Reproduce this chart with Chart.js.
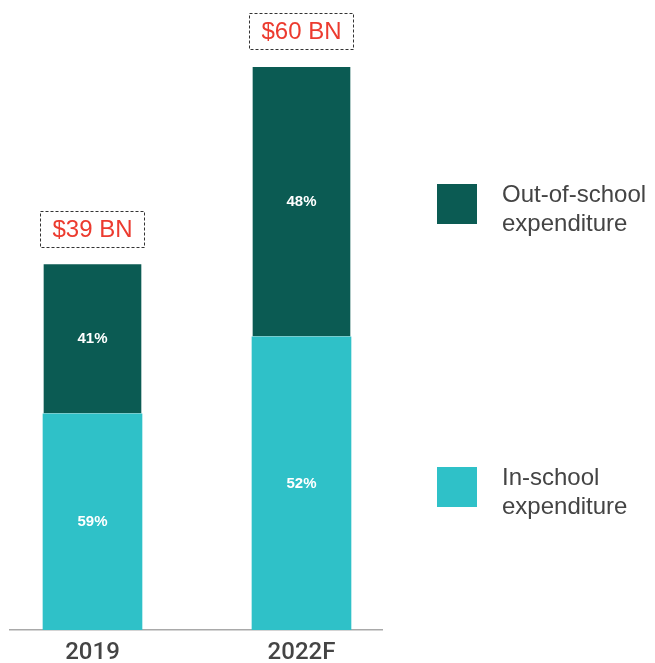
<!DOCTYPE html>
<html><head><meta charset="utf-8">
<script src="https://cdn.jsdelivr.net/npm/chart.js@4.4.1/dist/chart.umd.min.js"></script>
<style>
html,body{margin:0;padding:0;background:#fff;}
#wrap{position:relative;width:655px;height:663px;overflow:hidden;}
canvas{display:block;}
.sw{position:absolute;left:437px;width:40px;height:40px;}
.lt{position:absolute;left:502px;font:24px "Liberation Sans",Arial,sans-serif;color:#444;line-height:29px;white-space:nowrap;}
</style></head><body>
<div id="wrap"><canvas id="c" width="655" height="663"></canvas><div id="legend"></div></div>
<script>
// ---- data ----
const categories = ['2019', '2022F'];
const totalsBn = [39, 60];
const inSchoolPct = [59, 52];
const outSchoolPct = [41, 48];
const seriesNames = ['In-school expenditure', 'Out-of-school expenditure'];
const seriesLegendLines = [['In-school', 'expenditure'], ['Out-of-school', 'expenditure']];

const colors = { inSchool: '#2fc1c8', outSchool: '#0b5b53', red: '#ec3b2f', text: '#444444' };

const inVals = totalsBn.map((t, i) => t * inSchoolPct[i] / 100);
const outVals = totalsBn.map((t, i) => t * outSchoolPct[i] / 100);

const labelsPlugin = {
  id: 'labels',
  afterDatasetsDraw(chart) {
    const ctx = chart.ctx;
    ctx.save();
    // percentage labels
    chart.data.datasets.forEach((ds, di) => {
      const meta = chart.getDatasetMeta(di);
      meta.data.forEach((el, i) => {
        const p = el.getProps(['x', 'y', 'base'], true);
        ctx.fillStyle = '#ffffff';
        ctx.font = 'bold 15px "Liberation Sans", Arial, sans-serif';
        ctx.textAlign = 'center';
        ctx.textBaseline = 'middle';
        ctx.fillText(ds.pct[i] + '%', p.x, (p.y + p.base) / 2);
      });
    });
    // total boxes
    const topMeta = chart.getDatasetMeta(chart.data.datasets.length - 1);
    topMeta.data.forEach((el, i) => {
      const p = el.getProps(['x', 'y'], true);
      const w = 104, h = 36, gap = 17;
      const bx = Math.round(p.x - w / 2) + 0.5, by = Math.round(p.y - gap - h) + 0.5;
      ctx.setLineDash([3, 2]);
      ctx.strokeStyle = '#333';
      ctx.lineWidth = 1;
      ctx.strokeRect(bx, by, w, h);
      ctx.setLineDash([]);
      ctx.fillStyle = colors.red;
      ctx.font = '24px "Liberation Sans", Arial, sans-serif';
      ctx.textAlign = 'center';
      ctx.textBaseline = 'middle';
      ctx.fillText('$' + totalsBn[i] + ' BN', p.x, by + h / 2 + 1);
    });
    ctx.restore();
  }
};

const chart = new Chart(document.getElementById('c'), {
  type: 'bar',
  data: {
    datasets: [
      { label: seriesNames[0], data: inVals.map((v, i) => ({ x: i, y: v })), pct: inSchoolPct,
        backgroundColor: colors.inSchool, borderWidth: 0 },
      { label: seriesNames[1], data: outVals.map((v, i) => ({ x: i, y: v })), pct: outSchoolPct,
        backgroundColor: colors.outSchool, borderColor: 'rgba(255,255,255,0.75)', borderWidth: 1, borderSkipped: false }
    ]
  },
  options: {
    responsive: false,
    animation: false,
    layout: { padding: { left: 10, right: 273, top: 10, bottom: 0 } },
    datasets: { bar: { barThickness: 99 } },
    plugins: { legend: { display: false }, tooltip: { enabled: false } },
    scales: {
      x: {
        type: 'linear', stacked: true, offset: false, min: -0.3947, max: 1.3852,
        grid: { display: false, drawTicks: false, tickLength: 0 },
        border: { display: true, color: '#a9a9a9', width: 1.5 },
        afterBuildTicks: (s) => { s.ticks = categories.map((_, i) => ({ value: i })); },
        afterFit: (s) => { s.height = 33; },
        ticks: {
          callback: (v) => categories[v] ?? '',
          font: { family: 'Roboto', size: 24, weight: '500', lineHeight: 1.15 },
          color: colors.text, padding: 9, maxRotation: 0, autoSkip: false
        }
      },
      y: { stacked: true, display: false, min: 0, max: 66 }
    }
  },
  plugins: [labelsPlugin]
});

// HTML legend built from the dataset colours
const legend = document.getElementById('legend');
const legendTops = { 1: 184, 0: 467 };
[1, 0].forEach((di) => {
  const ds = chart.data.datasets[di];
  const sw = document.createElement('div');
  sw.className = 'sw';
  sw.style.top = legendTops[di] + 'px';
  sw.style.background = ds.backgroundColor;
  legend.appendChild(sw);
  const t = document.createElement('div');
  t.className = 'lt';
  t.style.top = (legendTops[di] - 5) + 'px';
  t.innerHTML = seriesLegendLines[di].join('<br>');
  legend.appendChild(t);
});
</script>
</body></html>
